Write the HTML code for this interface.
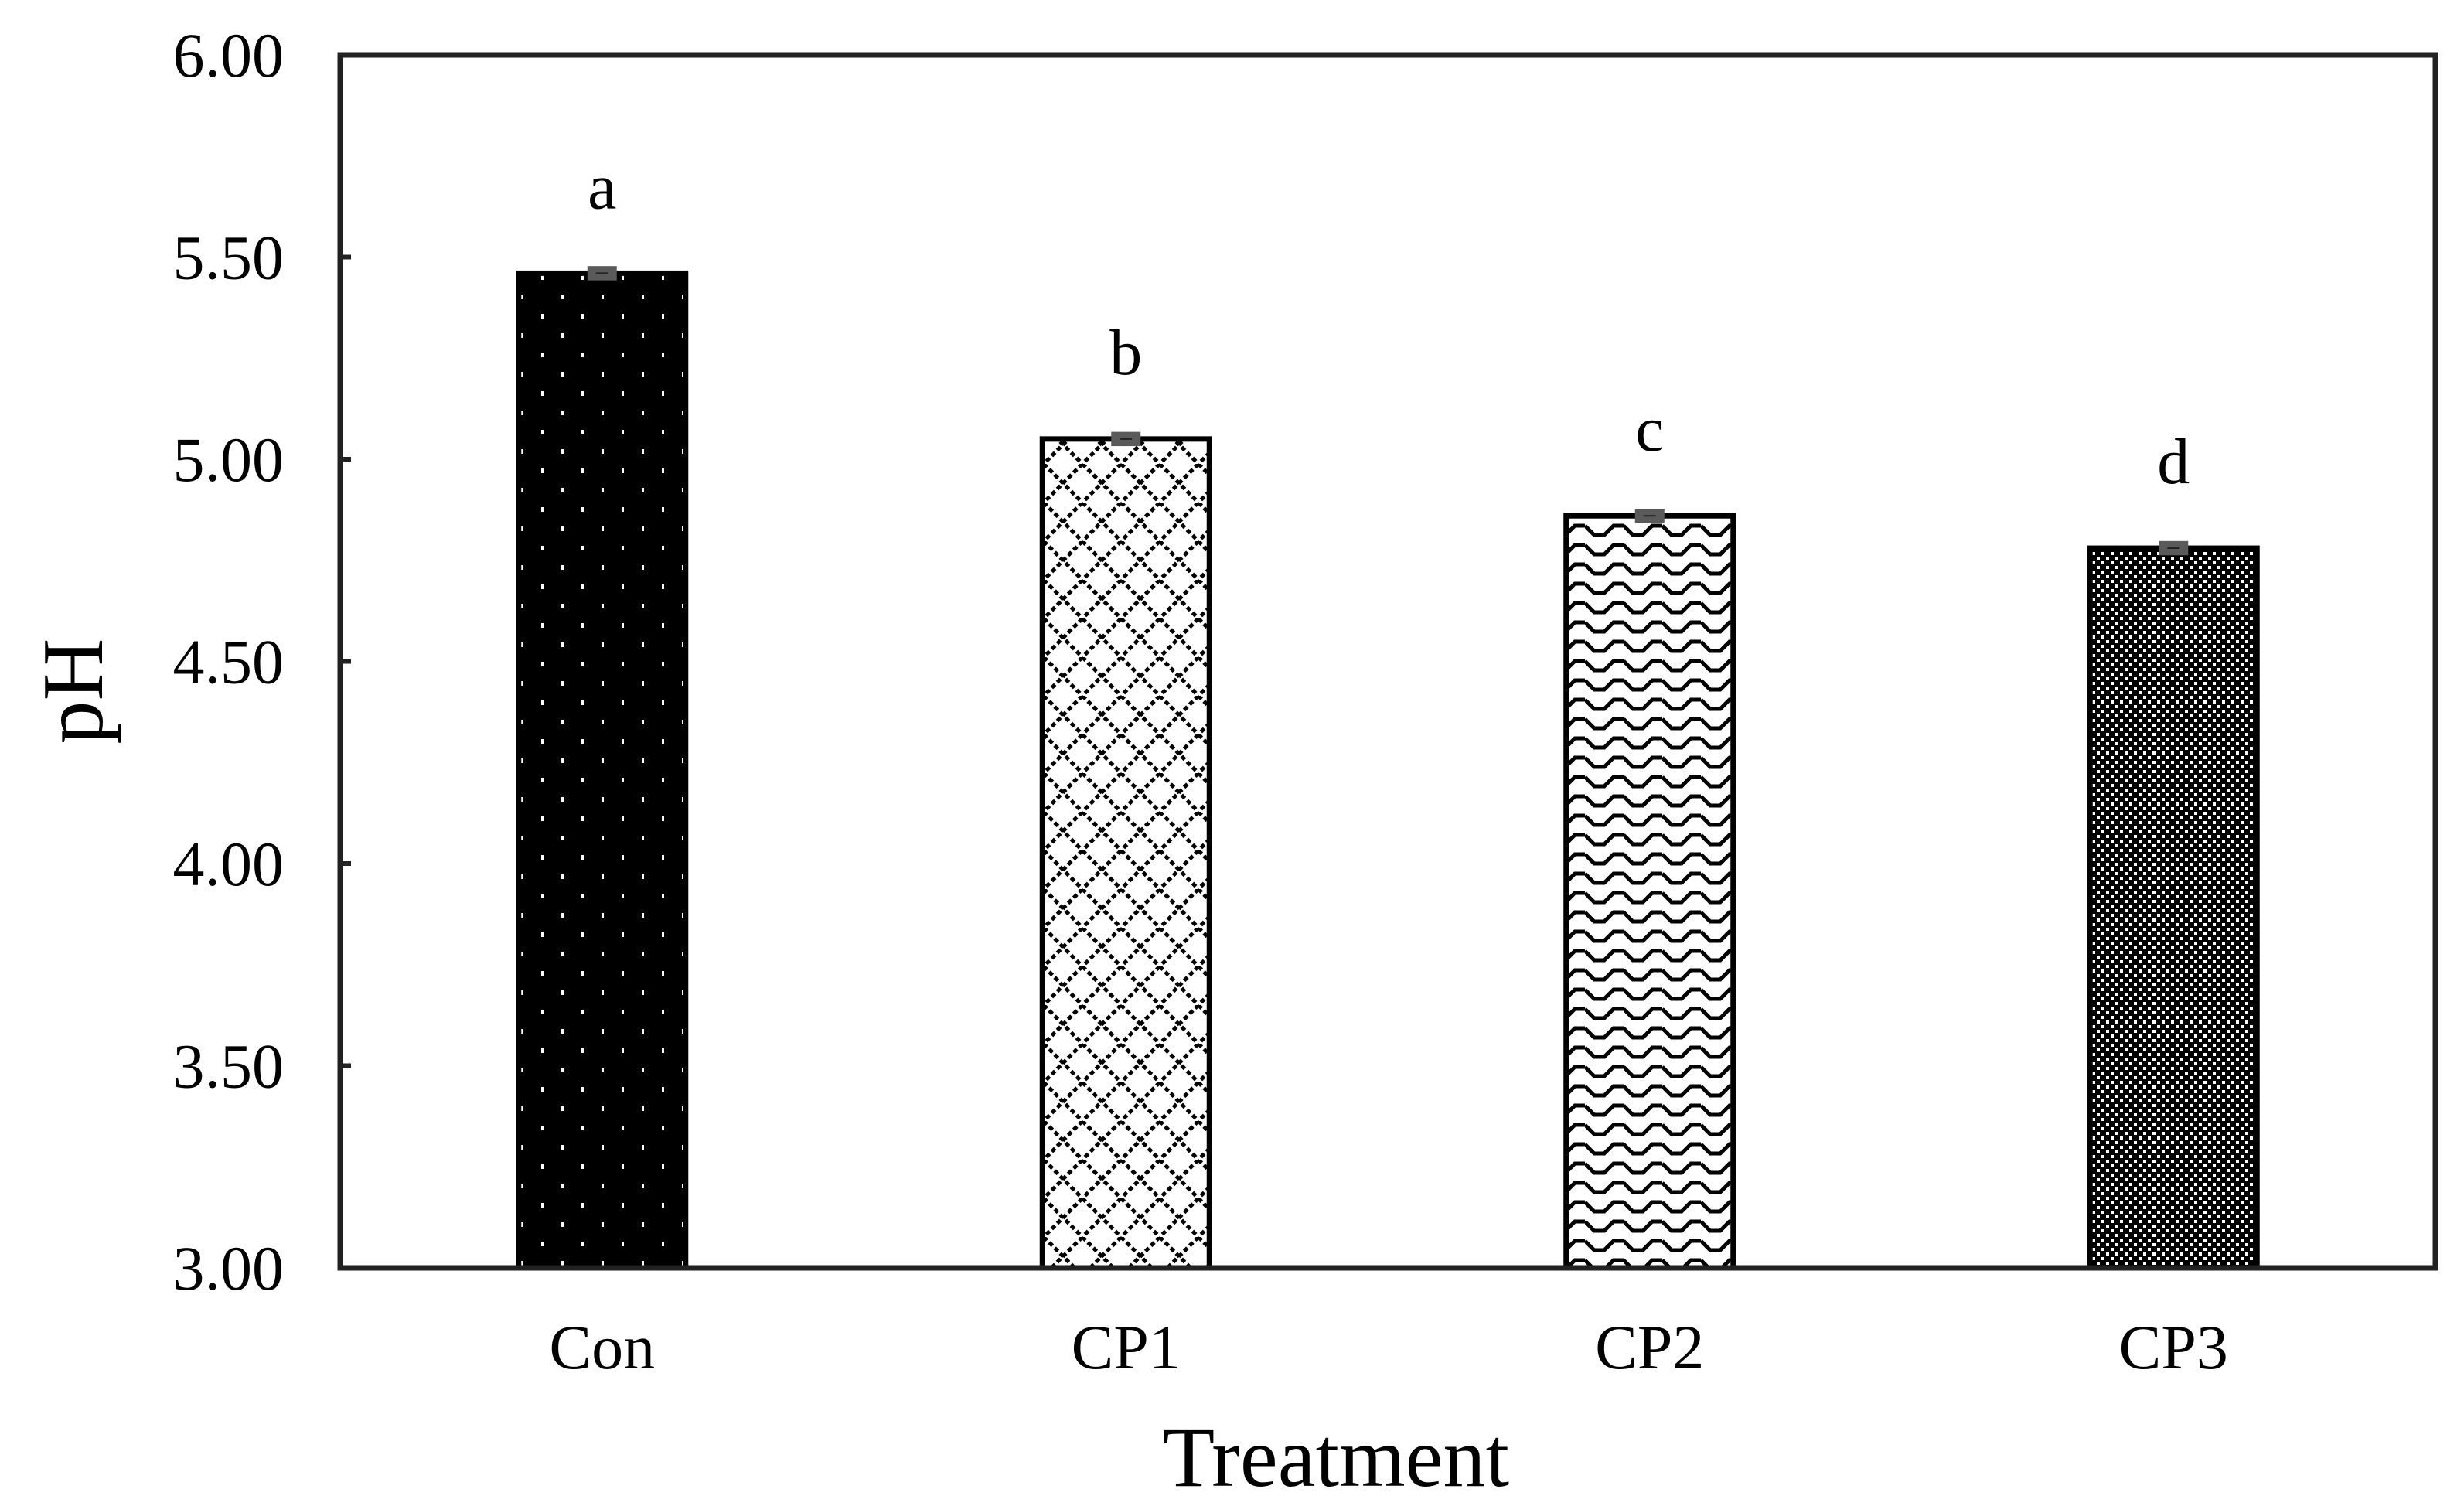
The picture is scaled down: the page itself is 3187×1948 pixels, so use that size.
<!DOCTYPE html>
<html><head><meta charset="utf-8"><style>
html,body{margin:0;padding:0;background:#fff;}
svg{display:block;}
text{font-family:"Liberation Serif",serif;fill:#000;}
</style></head><body>
<svg id="chart" width="3187" height="1948" viewBox="0 0 3187 1948">
<defs>
<pattern id="pDots" width="52" height="50" patternUnits="userSpaceOnUse">
<rect width="52" height="50" fill="#000"/>
<rect x="24" y="6" width="3" height="6" fill="#fff"/>
<rect x="50" y="31" width="3" height="6" fill="#fff"/>
<rect x="-2" y="31" width="3" height="6" fill="#fff"/>
</pattern>
<pattern id="pDiamond" width="50" height="50" patternUnits="userSpaceOnUse">
<rect width="50" height="50" fill="#fff"/>
<path d="M0,0 L50,50 M50,0 L0,50" stroke="#000" stroke-width="5" stroke-dasharray="6,4"/>
</pattern>
<pattern id="pWave" width="50" height="25" patternUnits="userSpaceOnUse">
<rect width="50" height="25" fill="#fff"/>
<path d="M0,5 L12,17 L25,17 L37,5 L50,5" stroke="#000" stroke-width="5" fill="none"/>
</pattern>
<pattern id="pCheck" width="12" height="12" patternUnits="userSpaceOnUse">
<rect width="12" height="12" fill="#000"/>
<rect x="0" y="0" width="4" height="4" fill="#fff"/>
<rect x="6" y="6" width="4" height="4" fill="#fff"/>
</pattern>
</defs>
<g id="plot"></g>
</svg>
<script>
const categories = ["Con","CP1","CP2","CP3"];
const values = [5.46, 5.05, 4.86, 4.78];
const errors = [0.01, 0.01, 0.01, 0.01];
const letters = ["a","b","c","d"];
const yTicks = [3.00, 3.50, 4.00, 4.50, 5.00, 5.50, 6.00];
const fills = ["url(#pDots)","url(#pDiamond)","url(#pWave)","url(#pCheck)"];

const L=440, R=3150, T=71, B=1640, yMin=3, yMax=6;
const NS="http://www.w3.org/2000/svg";
const g=document.getElementById('plot');
function y(v){return B-(v-yMin)/(yMax-yMin)*(B-T);}
function xc(i){const w=(R-L)/categories.length;return L+w*(i+0.5);}
function mk(tag,attrs,parent){const e=document.createElementNS(NS,tag);for(const k in attrs)e.setAttribute(k,attrs[k]);(parent||g).appendChild(e);return e;}
const barW=216;
categories.forEach((c,i)=>{
  const x=xc(i)-barW/2, top=y(values[i]);
  const r=mk('rect',{x:x,y:top,width:barW,height:B-top,fill:fills[i],stroke:'#000','stroke-width':7});
  
  
  const eTop=y(values[i]+errors[i]), eBot=y(values[i]-errors[i]);
  const eb=mk('g',{});
  
  
  mk('rect',{x:xc(i)-19,y:eTop-4,width:38,height:eBot-eTop+8,fill:'#5a5a5a'},eb);
  mk('line',{x1:xc(i)-8,x2:xc(i)+8,y1:(eTop+eBot)/2,y2:(eTop+eBot)/2,stroke:'#222','stroke-width':2},eb);
  const lt=mk('text',{x:xc(i),y:top-84,'font-size':84,'text-anchor':'middle'});
  lt.textContent=letters[i];
  
  
  const xl=mk('text',{x:xc(i),y:1770,'font-size':82,'text-anchor':'middle'});
  xl.textContent=c;
  
  
});
yTicks.forEach(v=>{
  const t=mk('line',{x1:L,x2:L+14,y1:y(v),y2:y(v),stroke:'#222','stroke-width':6});
  
  
  const tl=mk('text',{x:367,y:y(v)+28,'font-size':82,'text-anchor':'end'});
  tl.textContent=v.toFixed(2);
  
  
});
const frame=mk('rect',{x:L,y:T,width:R-L,height:B-T,fill:'none',stroke:'#222','stroke-width':7});


const xt=mk('text',{x:1728,y:1922,'font-size':110,'text-anchor':'middle'});
xt.textContent='Treatment';


const yt=mk('text',{x:0,y:0,'font-size':112,'text-anchor':'middle',transform:'translate(132,894) rotate(-90)'});
yt.textContent='pH';


</script>
</body></html>
